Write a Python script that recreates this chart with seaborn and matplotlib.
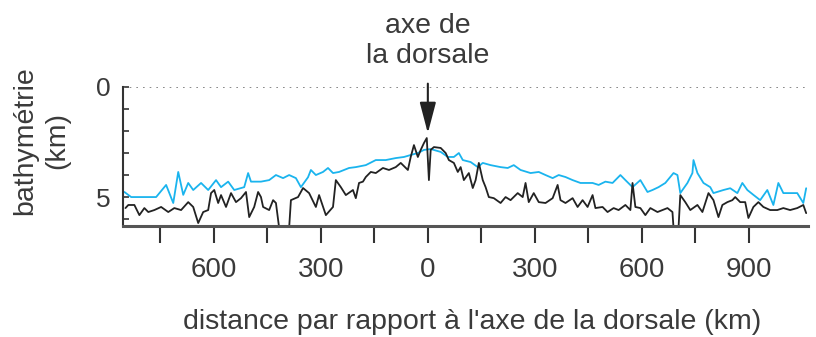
import matplotlib
matplotlib.use("Agg")
import matplotlib.pyplot as plt
import seaborn as sns
import pandas as pd

# profil cyan (distance km, profondeur km)
cyan_dist = [-851, -832, -762, -734, -714, -700, -686, -672, -658, -636, -616, -594, -580, -560,
             -543, -515, -504, -496, -468, -445, -426, -406, -389, -370, -356, -336, -328, -314,
             -294, -280, -266, -249, -221, -202, -174, -146, -118, -90, -67, -48, -28, -11, 8,
             36, 56, 73, 87, 98, 120, 140, 154, 176, 204, 224, 241, 260, 288, 311, 330, 350,
             367, 386, 406, 428, 462, 479, 498, 518, 540, 554, 574, 596, 616, 630, 647, 666,
             689, 700, 708, 728, 742, 745, 756, 773, 792, 801, 829, 848, 868, 882, 896, 913,
             932, 952, 969, 983, 997, 1016, 1036, 1053, 1061]
cyan_depth = [4.77, 5.0, 5.0, 4.45, 5.27, 3.86, 4.9, 4.36, 4.68, 4.36, 4.68, 4.23, 4.55, 4.3,
              4.68, 4.55, 3.91, 4.3, 4.3, 4.23, 4.0, 4.14, 4.0, 4.14, 4.55, 4.1, 3.77, 4.0,
              3.86, 3.68, 3.91, 3.86, 3.68, 3.64, 3.55, 3.32, 3.32, 3.23, 3.18, 3.09, 3.0, 2.86,
              2.82, 2.95, 3.18, 3.18, 3.0, 3.32, 3.41, 3.64, 3.45, 3.55, 3.64, 3.68, 3.55, 3.77,
              3.91, 3.86, 4.0, 4.14, 4.0, 4.09, 4.23, 4.36, 4.36, 4.45, 4.3, 4.36, 4.0, 4.23,
              4.55, 4.23, 4.77, 4.68, 4.55, 4.36, 3.91, 4.0, 4.82, 4.36, 3.91, 3.32, 3.91, 4.36,
              4.55, 4.82, 4.68, 4.6, 4.82, 4.36, 4.68, 4.9, 5.14, 4.68, 5.36, 4.36, 4.82, 4.82,
              4.82, 5.27, 4.6]

# profil noir
black_dist = [-848, -840, -823, -809, -795, -784, -767, -748, -728, -711, -692, -672, -658, -644,
              -630, -616, -608, -599, -588, -580, -566, -552, -538, -524, -510, -501, -487, -476,
              -468, -462, -445, -434, -426, -417, -389, -384, -364, -350, -333, -314, -305, -286,
              -266, -258, -244, -230, -210, -202, -193, -182, -174, -160, -146, -126, -109, -90,
              -76, -56, -48, -39, -28, -20, -11, -3, 3, 8, 17, 36, 50, 59, 73, 84, 92, 101, 115,
              126, 134, 143, 154, 162, 171, 185, 204, 218, 232, 252, 266, 274, 283, 297, 311,
              330, 350, 364, 372, 386, 406, 420, 434, 448, 462, 470, 490, 504, 521, 535, 554,
              568, 574, 582, 596, 610, 624, 644, 658, 672, 686, 689, 703, 708, 722, 736, 756,
              770, 787, 801, 815, 826, 840, 854, 862, 876, 890, 899, 913, 927, 941, 960, 980,
              997, 1016, 1036, 1053, 1061]
black_depth = [5.5, 5.36, 5.36, 5.82, 5.5, 5.68, 5.59, 5.45, 5.68, 5.5, 5.59, 5.23, 5.45, 6.18,
               5.68, 5.59, 4.82, 4.68, 5.27, 4.91, 5.45, 4.82, 5.23, 5.05, 4.77, 5.91, 5.45, 4.77,
               5.0, 5.45, 5.59, 5.14, 5.27, 6.4, 6.4, 5.14, 5.0, 4.59, 4.82, 5.45, 4.91, 5.82,
               5.45, 4.23, 4.55, 4.91, 4.68, 5.05, 4.36, 4.3, 4.09, 3.86, 3.91, 3.68, 3.77, 3.64,
               3.45, 3.77, 3.18, 2.64, 3.18, 2.86, 2.55, 2.32, 4.23, 2.86, 2.73, 2.77, 3.0, 3.32,
               3.45, 3.86, 3.64, 4.23, 3.91, 4.59, 4.23, 3.45, 4.23, 4.55, 5.0, 5.05, 5.27, 5.0,
               5.14, 4.82, 5.0, 4.36, 5.23, 4.82, 5.23, 5.27, 5.05, 4.45, 5.14, 5.27, 5.05, 5.45,
               5.14, 5.45, 4.91, 5.5, 5.45, 5.68, 5.5, 5.59, 5.36, 5.59, 4.36, 5.45, 5.5, 5.82,
               5.5, 5.68, 5.59, 5.5, 5.68, 6.4, 6.4, 4.91, 5.23, 5.59, 5.36, 5.68, 4.82, 5.14,
               5.91, 5.36, 5.23, 5.14, 5.0, 5.23, 5.23, 5.95, 5.45, 5.23, 5.45, 5.59, 5.59, 5.5,
               5.59, 5.5, 5.36, 5.73]

x_ticks = [-750, -600, -450, -300, -150, 0, 150, 300, 450, 600, 750, 900]
x_ticklabels = ["", "600", "", "300", "", "0", "", "300", "", "600", "", "900"]
y_ticks = [0, 1, 2, 3, 4, 5, 6]
y_ticklabels = ["0", "", "", "", "", "5", ""]

sns.set_style("white")
plt.rcParams["font.family"] = ["Liberation Sans", "DejaVu Sans"]
txt = "#3a3a3a"

fig = plt.figure(figsize=(8.16, 3.37), dpi=100)
ax = fig.add_axes([0.1507, 0.329, 0.839, 0.413])

cyan = pd.DataFrame({"dist": cyan_dist, "depth": cyan_depth})
black = pd.DataFrame({"dist": black_dist, "depth": black_depth})
sns.lineplot(data=cyan, x="dist", y="depth", ax=ax, color="#1ab4ee", lw=1.3,
             estimator=None, sort=False)
sns.lineplot(data=black, x="dist", y="depth", ax=ax, color="#222222", lw=1.3,
             estimator=None, sort=False)

ax.set_xlim(-855, 1065)
ax.set_ylim(6.32, 0)
ax.axhline(0, color="#777777", lw=1.2, ls=(0, (1, 3)))

for s in ["top", "right"]:
    ax.spines[s].set_visible(False)
ax.spines["left"].set_color("#333333")
ax.spines["left"].set_linewidth(1.5)
ax.spines["bottom"].set_color("#555555")
ax.spines["bottom"].set_linewidth(2.2)

ax.set_xticks(x_ticks)
ax.set_xticklabels(x_ticklabels)
ax.set_yticks(y_ticks)
ax.set_yticklabels(y_ticklabels)
ax.tick_params(axis="x", direction="out", length=12, width=1.5, color="#333333",
               labelsize=20, labelcolor=txt, pad=10, bottom=True)
ax.tick_params(axis="y", direction="in", length=4, width=1.2, color="#333333",
               labelsize=19, labelcolor=txt, pad=9, left=True)
ax.set_xlabel("")
ax.set_ylabel("")

fig.text(0.578, 0.024, "distance par rapport à l'axe de la dorsale (km)", fontsize=20.5,
         color=txt, ha="center", va="baseline")
fig.text(0.050, 0.582, "bathymétrie\n(km)", fontsize=20.5, color=txt, rotation=90,
         ha="center", va="center", multialignment="center", linespacing=1.3)

ax.annotate("", xy=(0, 2.1), xytext=(0, -0.15), annotation_clip=False,
            arrowprops=dict(arrowstyle="-|>,head_length=1.9,head_width=0.5",
                            mutation_scale=10, color="#222222", lw=1.5,
                            shrinkA=0, shrinkB=0))
ax.text(0, 1.13, "axe de\nla dorsale", transform=ax.get_xaxis_transform(),
        ha="center", va="bottom", fontsize=20.5, color=txt, linespacing=1.2)

fig.savefig("out.png", dpi=100)
